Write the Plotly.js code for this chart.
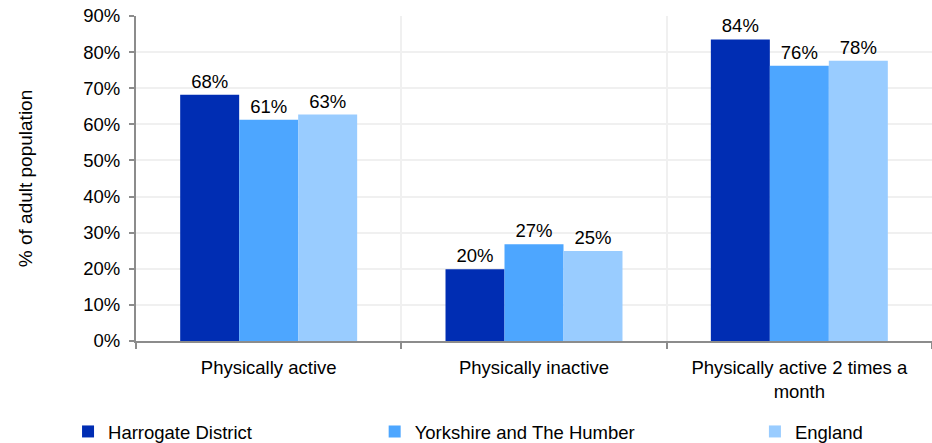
<!DOCTYPE html>
<html>
<head>
<meta charset="utf-8">
<script src="https://cdn.plot.ly/plotly-3.0.1.min.js"></script>
<style>html,body{margin:0;padding:0;background:#fff;}#chart{width:932px;height:443px;}</style>
</head>
<body>
<div id="chart"></div>
<script>
const categories = ["Physically active", "Physically inactive", "Physically active 2 times a<br>month"];
const seriesNames = ["Harrogate District", "Yorkshire and The Humber", "England"];
const harrogate = [68.2, 19.9, 83.5];
const yorkshire = [61.3, 26.8, 76.2];
const england = [62.7, 24.9, 77.6];
const yTickVals = [0, 10, 20, 30, 40, 50, 60, 70, 80, 90];
const colors = ["#002DB3", "#4DA6FF", "#99CCFF"];

const FONT = "Liberation Sans, Arial, sans-serif";
const FS = 18.5;
const seriesValues = [harrogate, yorkshire, england];
const legendIds = ["legend", "legend2", "legend3"];
const traces = seriesValues.map((vals, i) => ({
  type: "bar",
  name: seriesNames[i],
  x: categories,
  y: vals,
  marker: {color: colors[i]},
  texttemplate: "%{y:.0f}%",
  textposition: "outside",
  cliponaxis: false,
  textfont: {family: FONT, size: FS, color: "#000"},
  legend: legendIds[i],
  hoverinfo: "x+y+name"
}));

const legendFont = {family: FONT, size: FS, color: "#000"};
const legBase = {orientation: "h", xref: "container", yref: "container", yanchor: "middle", y: 0.025, font: legendFont, itemwidth: 30, bgcolor: "rgba(0,0,0,0)"};

const layout = {
  width: 932, height: 443,
  margin: {l: 136, r: 0, t: 16, b: 102},
  paper_bgcolor: "#fff", plot_bgcolor: "#fff",
  font: {family: FONT, size: FS, color: "#000"},
  barmode: "group",
  bargap: 0.333,
  bargroupgap: 0,
  showlegend: true,
  legend: Object.assign({}, legBase, {x: 0.073}),
  legend2: Object.assign({}, legBase, {x: 0.402}),
  legend3: Object.assign({}, legBase, {x: 0.810}),
  xaxis: {
    type: "category",
    tickson: "boundaries",
    ticks: "outside", ticklen: 6, tickcolor: "#8c8c8c", tickwidth: 2,
    showgrid: true, gridcolor: "#f0f0f0", gridwidth: 2,
    showline: true, linecolor: "#8c8c8c", linewidth: 2,
    tickfont: {family: FONT, size: FS, color: "#000"},
    ticklabelstandoff: 9
  },
  yaxis: {
    range: [0, 90],
    tickvals: yTickVals,
    ticktext: yTickVals.map(v => v + "%"),
    ticks: "outside", ticklen: 5, tickcolor: "#8c8c8c", tickwidth: 2,
    showgrid: true, gridcolor: "#f0f0f0", gridwidth: 2,
    showline: true, linecolor: "#8c8c8c", linewidth: 2,
    zeroline: false,
    tickfont: {family: FONT, size: FS, color: "#000"},
    ticklabelstandoff: 5,
    title: {text: "% of adult population", font: {family: FONT, size: 19, color: "#000"}, standoff: 46},
    automargin: false
  }
};

Plotly.newPlot("chart", traces, layout, {displayModeBar: false, staticPlot: true});
</script>
</body>
</html>
